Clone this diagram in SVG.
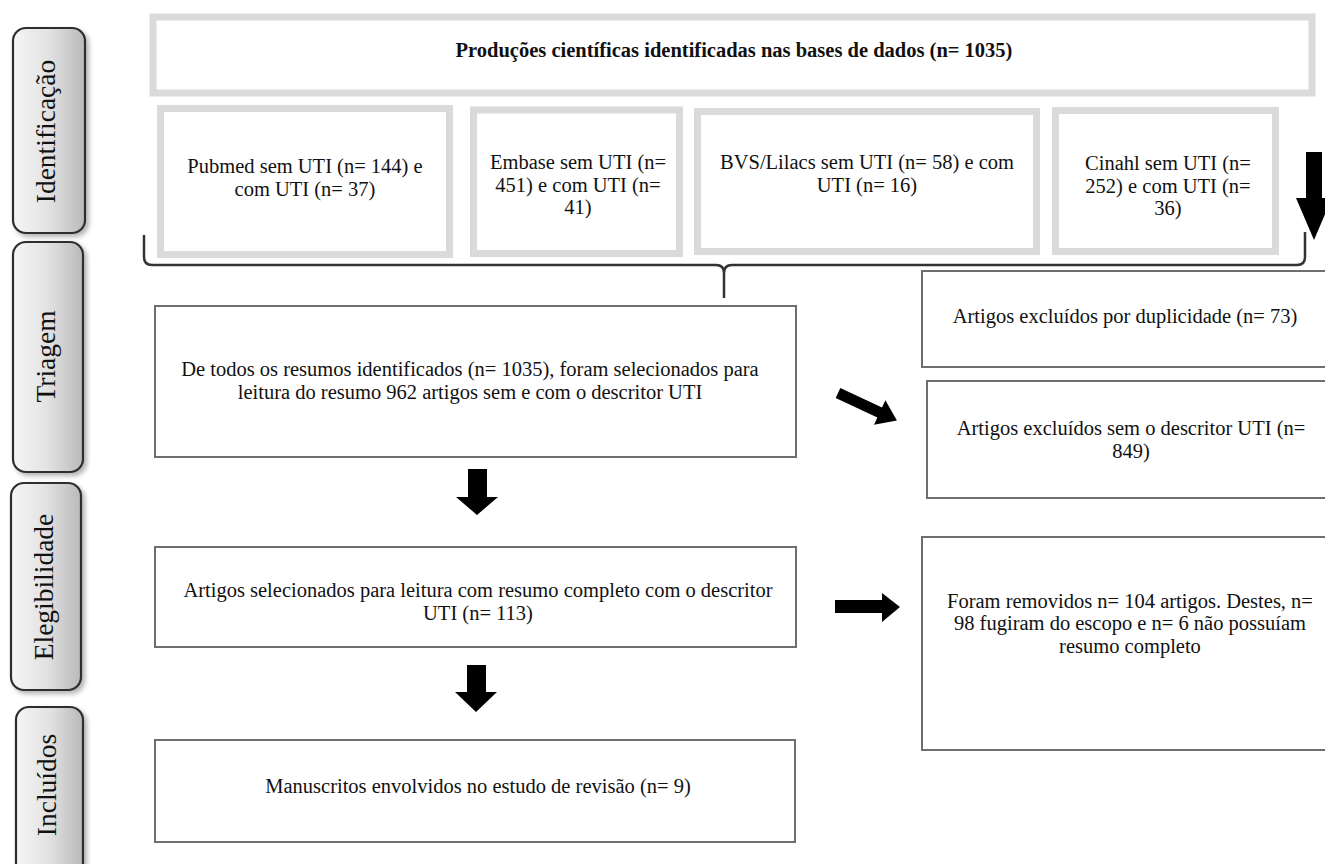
<svg xmlns="http://www.w3.org/2000/svg" width="1325" height="864" viewBox="0 0 1325 864">
  <defs>
    <linearGradient id="tabGrad" x1="0" y1="0" x2="1" y2="0">
      <stop offset="0" stop-color="#f6f6f6"/>
      <stop offset="0.5" stop-color="#e2e2e2"/>
      <stop offset="1" stop-color="#b9b9b9"/>
    </linearGradient>
    <filter id="shadow" x="-20%" y="-10%" width="150%" height="130%">
      <feGaussianBlur in="SourceAlpha" stdDeviation="2.5"/>
      <feOffset dx="3" dy="3" result="b"/>
      <feComponentTransfer><feFuncA type="linear" slope="0.3"/></feComponentTransfer>
      <feMerge><feMergeNode/><feMergeNode in="SourceGraphic"/></feMerge>
    </filter>
  </defs>
  <style>
    .tab { fill: url(#tabGrad); stroke: #2e2e2e; stroke-width: 2.2; filter: url(#shadow); }
    .tabtxt { font-family: "Liberation Serif", "Times New Roman", serif; font-size: 27.5px; fill: #111; text-anchor: middle; }
    .gbox { fill: #fff; stroke: #dadada; stroke-width: 7; }
    .box { fill: #fff; stroke: #6e6e6e; stroke-width: 2; }
    .t { font-family: "Liberation Serif", "Times New Roman", serif; font-size: 20.5px; fill: #111; text-anchor: middle; }
    .tb { font-family: "Liberation Serif", "Times New Roman", serif; font-size: 20.5px; font-weight: bold; fill: #111; text-anchor: middle; }
    .brace { fill: none; stroke: #333; stroke-width: 2.5; }
    .arrow { fill: #000; }
  </style>

  <rect width="1325" height="864" fill="#fff"/>

  <!-- Side phase labels -->
  <g id="tab-identificacao">
    <rect class="tab" x="13" y="28" width="72" height="205" rx="13"/>
    <text class="tabtxt" transform="translate(55,131.5) rotate(-90)">Identificação</text>
  </g>
  <g id="tab-triagem">
    <rect class="tab" x="13" y="242" width="70" height="230" rx="13"/>
    <text class="tabtxt" transform="translate(55,356.5) rotate(-90)">Triagem</text>
  </g>
  <g id="tab-elegibilidade">
    <rect class="tab" x="11" y="483" width="70" height="207" rx="13"/>
    <text class="tabtxt" transform="translate(53,587) rotate(-90)">Elegibilidade</text>
  </g>
  <g id="tab-incluidos">
    <rect class="tab" x="16" y="707" width="67" height="170" rx="13"/>
    <text class="tabtxt" transform="translate(56,785) rotate(-90)">Incluídos</text>
  </g>

  <!-- Identification boxes -->
  <g id="node-total">
    <rect class="gbox" x="153" y="17" width="1159" height="76" stroke-width="10"/>
    <text class="tb" x="734" y="57">Produções científicas identificadas nas bases de dados (n= 1035)</text>
  </g>
  <g id="node-pubmed">
    <rect class="gbox" x="160.5" y="108.5" width="289" height="146"/>
    <text class="t" x="305" y="173">Pubmed sem UTI (n= 144) e</text>
    <text class="t" x="305" y="196">com UTI (n= 37)</text>
  </g>
  <g id="node-embase">
    <rect class="gbox" x="473.5" y="110" width="206" height="143.5"/>
    <text class="t" x="578" y="169">Embase sem UTI (n=</text>
    <text class="t" x="578" y="191.5">451) e com UTI (n=</text>
    <text class="t" x="578" y="214">41)</text>
  </g>
  <g id="node-bvs">
    <rect class="gbox" x="697.5" y="111.5" width="339" height="140"/>
    <text class="t" x="867" y="169">BVS/Lilacs sem UTI (n= 58) e com</text>
    <text class="t" x="867" y="191.5">UTI (n= 16)</text>
  </g>
  <g id="node-cinahl">
    <rect class="gbox" x="1055.5" y="110.5" width="220" height="141"/>
    <text class="t" x="1168" y="170">Cinahl sem UTI (n=</text>
    <text class="t" x="1168" y="192.5">252) e com UTI (n=</text>
    <text class="t" x="1168" y="215">36)</text>
  </g>

  <!-- Screening / eligibility / included -->
  <g id="node-triagem">
    <rect class="box" x="155" y="306" width="641" height="151"/>
    <text class="t" x="470" y="376">De todos os resumos identificados (n= 1035), foram selecionados para</text>
    <text class="t" x="470" y="398.5">leitura do resumo 962 artigos sem e com o descritor UTI</text>
  </g>
  <g id="node-duplicidade">
    <rect class="box" x="922" y="271" width="410" height="96"/>
    <text class="t" x="1125" y="323">Artigos excluídos por duplicidade (n= 73)</text>
  </g>
  <g id="node-sem-descritor">
    <rect class="box" x="927" y="381" width="405" height="117"/>
    <text class="t" x="1131" y="435">Artigos excluídos sem o descritor UTI (n=</text>
    <text class="t" x="1131" y="457.5">849)</text>
  </g>
  <g id="node-elegibilidade">
    <rect class="box" x="155" y="547" width="641" height="100"/>
    <text class="t" x="478" y="597">Artigos selecionados para leitura com resumo completo com o descritor</text>
    <text class="t" x="478" y="620">UTI (n= 113)</text>
  </g>
  <g id="node-removidos">
    <rect class="box" x="922" y="537" width="410" height="213"/>
    <text class="t" x="1130" y="607.5">Foram removidos n= 104 artigos. Destes, n=</text>
    <text class="t" x="1130" y="630">98 fugiram do escopo e n= 6 não possuíam</text>
    <text class="t" x="1130" y="652.5">resumo completo</text>
  </g>
  <g id="node-incluidos">
    <rect class="box" x="155" y="740" width="640" height="102"/>
    <text class="t" x="478" y="793">Manuscritos envolvidos no estudo de revisão (n= 9)</text>
  </g>

  <!-- Connectors -->
  <g id="connectors">
    <path class="brace" d="M144 235 L144 257 Q144 265 152 265 L716 265 Q724 265 724 273 L724 298 M724 273 Q724 265 732 265 L1297 265 Q1305 265 1305 257 L1305 232"/>
    <polygon class="arrow" points="1306,152 1322,152 1322,198 1332,198 1314,240 1296,198 1306,198"/>
    <polygon class="arrow" transform="translate(838,393) rotate(25)" points="0,-5.5 46,-5.5 46,-13.5 65,0 46,13.5 46,5.5 0,5.5"/>
    <polygon class="arrow" points="468,469 487,469 487,497 498,497 477,515 456,497 468,497"/>
    <polygon class="arrow" points="467,665 486,665 486,692 497,692 476,712 455,692 467,692"/>
    <polygon class="arrow" points="835,600 882,600 882,593 900,607 882,622 882,613 835,613"/>
  </g>
</svg>
